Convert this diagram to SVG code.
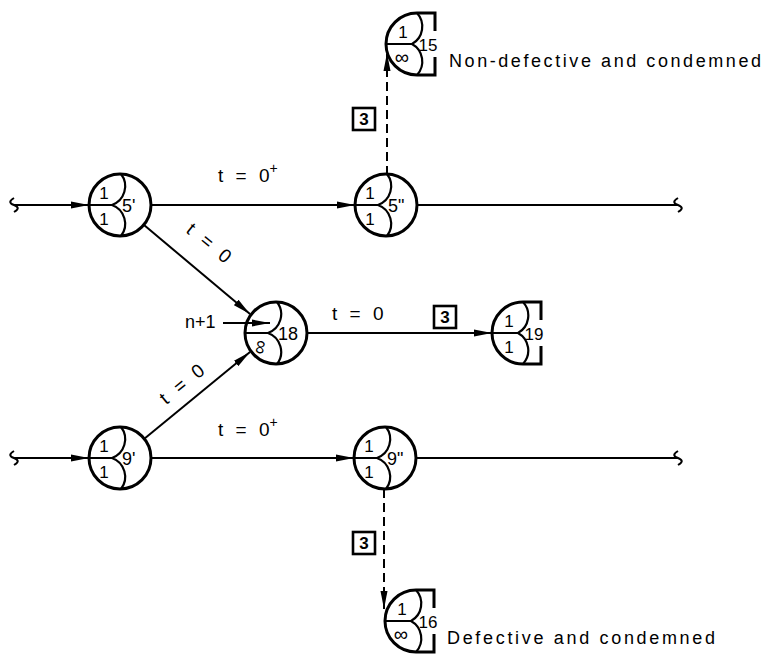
<svg xmlns="http://www.w3.org/2000/svg" width="773" height="656" viewBox="0 0 773 656">
<defs>
<marker id="ah" viewBox="0 0 18 8" refX="18" refY="4" markerWidth="18" markerHeight="8" orient="auto" markerUnits="userSpaceOnUse"><path d="M0,0.5 L18,4 L0,7.5 z" fill="#000"/></marker>
<style>
.c{fill:none;stroke:#000;stroke-width:3}
.d{fill:none;stroke:#000;stroke-width:2.2}
.l{fill:none;stroke:#000;stroke-width:2;marker-end:url(#ah)}
.p{fill:none;stroke:#000;stroke-width:2}
.ds{fill:none;stroke:#000;stroke-width:2;stroke-dasharray:9 5;marker-end:url(#ah)}
text{font-family:"Liberation Sans",Arial,sans-serif;fill:#000}
.n{font-size:18px}
.s{font-size:17px;text-anchor:middle}
.inf{font-size:20px;text-anchor:middle}
.lb{font-size:19px;word-spacing:7px}
.bx{fill:none;stroke:#000;stroke-width:2.6}
.bt{font-size:17px;font-weight:bold;text-anchor:middle}
.cap{font-size:18px}
</style>
</defs>
<rect width="773" height="656" fill="#fff"/>
<g id="connectors">
<path class="p" d="M14,205 H89" marker-end="url(#ah)"/>
<path class="l" d="M151,205 H355"/>
<path class="p" d="M417,205 H678"/>
<path class="p" d="M14,458 H89" marker-end="url(#ah)"/>
<path class="l" d="M151,458 H354"/>
<path class="p" d="M416,458 H678"/>
<path class="l" d="M144,225 L250,314"/>
<path class="l" d="M144,439 L250,352"/>
<path class="l" d="M307,333 H492"/>
<path class="l" d="M223,323 H270"/>
<path class="ds" d="M387,175 V53"/>
<path class="ds" d="M384,489 V609"/>
<path class="p" d="M14,198 c-5,3 -5,5 0,7 c5,2 5,4 0,7"/>
<path class="p" d="M14,451 c-5,3 -5,5 0,7 c5,2 5,4 0,7"/>
<path class="p" d="M678,198 c-5,3 -5,5 0,7 c5,2 5,4 0,7"/>
<path class="p" d="M678,451 c-5,3 -5,5 0,7 c5,2 5,4 0,7"/>
</g>
<g id="labels">
<text class="lb" x="218" y="182">t = 0<tspan font-size="14" dy="-9">+</tspan></text>
<text class="lb" x="218" y="436">t = 0<tspan font-size="14" dy="-9">+</tspan></text>
<text class="lb" x="332" y="320">t = 0</text>
<text class="lb" transform="translate(205,248) rotate(39)" text-anchor="middle">t = 0</text>
<text class="lb" transform="translate(186,389) rotate(-39)" text-anchor="middle">t = 0</text>
<text class="n" x="185" y="328">n+1</text>
<rect class="bx" x="353" y="108" width="22" height="22"/><text class="bt" x="364" y="125">3</text>
<rect class="bx" x="434" y="306" width="22" height="22"/><text class="bt" x="445" y="323">3</text>
<rect class="bx" x="353" y="532" width="22" height="22"/><text class="bt" x="364" y="549">3</text>
</g>
<g id="n5a">
<circle class="c" cx="120" cy="205" r="31"/>
<path class="d" d="M89,205 H112 A20,20 0 0 0 121,174 M112,205 A20,20 0 0 1 121,236"/>
<text class="s" x="104" y="199">1</text><text class="s" x="104" y="225">1</text>
<text class="n" x="122" y="212">5'</text>
</g>
<g id="n5b">
<circle class="c" cx="386" cy="205" r="31"/>
<path class="d" d="M355,205 H378 A20,20 0 0 0 387,174 M378,205 A20,20 0 0 1 387,236"/>
<text class="s" x="370" y="199">1</text><text class="s" x="370" y="225">1</text>
<text class="n" x="388" y="212">5"</text>
</g>
<g id="n18">
<circle class="c" cx="276" cy="333" r="31"/>
<path class="d" d="M245,333 H268 A20,20 0 0 0 277,302 M268,333 A20,20 0 0 1 277,364"/>
<text class="inf" dominant-baseline="central" transform="translate(259,347) rotate(-80)">∞</text>
<text class="n" x="278" y="340">18</text>
</g>
<g id="n9a">
<circle class="c" cx="120" cy="458" r="31"/>
<path class="d" d="M89,458 H112 A20,20 0 0 0 121,427 M112,458 A20,20 0 0 1 121,489"/>
<text class="s" x="104" y="452">1</text><text class="s" x="104" y="478">1</text>
<text class="n" x="122" y="465">9'</text>
</g>
<g id="n9b">
<circle class="c" cx="385" cy="458" r="31"/>
<path class="d" d="M354,458 H377 A20,20 0 0 0 386,427 M377,458 A20,20 0 0 1 386,489"/>
<text class="s" x="369" y="452">1</text><text class="s" x="369" y="478">1</text>
<text class="n" x="387" y="465">9"</text>
</g>
<g id="n15">
<path class="c" d="M417,13 A31,31 0 0 0 417,75 M417,13 H435 V31 M435,57 V75 H417"/>
<path class="d" d="M386,44 H412 A20,20 0 0 0 417,13 M412,44 A20,20 0 0 1 417,75"/>
<text class="s" x="403" y="38">1</text><text class="inf" x="402" y="64">∞</text>
<text class="s" x="428" y="51">15</text>
<text class="cap" x="449" y="67" textLength="312" lengthAdjust="spacing">Non-defective and condemned</text>
</g>
<g id="n19">
<path class="c" d="M523,302 A31,31 0 0 0 523,364 M523,302 H541 V320 M541,346 V364 H523"/>
<path class="d" d="M492,333 H518 A20,20 0 0 0 523,302 M518,333 A20,20 0 0 1 523,364"/>
<text class="s" x="509" y="327">1</text><text class="s" x="509" y="353">1</text>
<text class="s" x="534" y="340">19</text>
</g>
<g id="n16">
<path class="c" d="M416,590 A31,31 0 0 0 416,652 M416,590 H434 V608 M434,634 V652 H416"/>
<path class="d" d="M385,621 H411 A20,20 0 0 0 416,590 M411,621 A20,20 0 0 1 416,652"/>
<text class="s" x="402" y="615">1</text><text class="inf" x="401" y="641">∞</text>
<text class="s" x="428" y="628">16</text>
<text class="cap" x="447" y="644" textLength="268" lengthAdjust="spacing">Defective and condemned</text>
</g>
</svg>
